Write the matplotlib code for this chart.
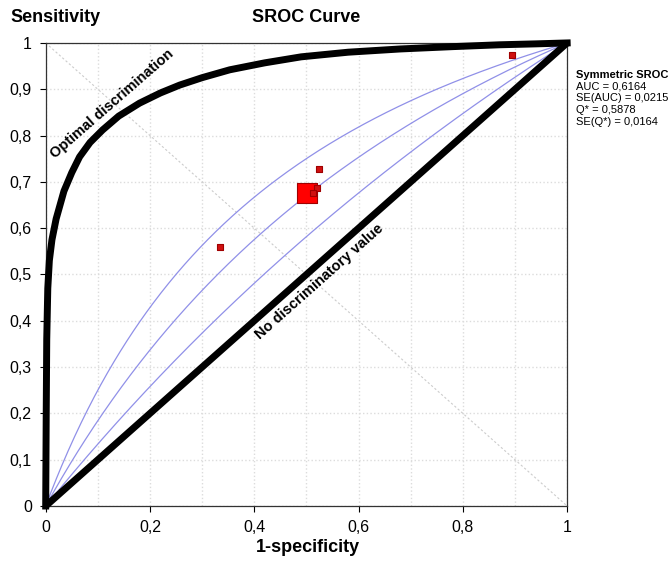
import numpy as np
import matplotlib
matplotlib.use("Agg")
import matplotlib.pyplot as plt

plt.rcParams['font.family'] = ['Liberation Sans', 'DejaVu Sans']

# study points (1-specificity, sensitivity) and marker side in px
fpr = [0.501, 0.335, 0.524, 0.520, 0.513, 0.894]
sens = [0.676, 0.560, 0.728, 0.687, 0.676, 0.974]
side = [20, 6, 6, 6, 6, 6]

# ln(DOR) of the symmetric SROC curve and its bounds
ln_dor = [1.10, 0.71, 0.33]

# "optimal discrimination" curve
opt_x = [0.0, 0.001, 0.002, 0.004, 0.007, 0.012, 0.02, 0.035, 0.05, 0.065, 0.085,
         0.109, 0.14, 0.18, 0.22, 0.257, 0.30, 0.353, 0.42, 0.49, 0.58, 0.68, 0.78, 0.87, 0.94, 1.0]
opt_y = [0.0, 0.20, 0.36, 0.47, 0.53, 0.575, 0.62, 0.68, 0.72, 0.754, 0.785,
         0.812, 0.842, 0.870, 0.892, 0.909, 0.925, 0.942, 0.957, 0.970, 0.980, 0.987, 0.992, 0.996, 0.998, 1.0]

grid_ticks = np.arange(0, 1.01, 0.1)
y_labels = ['0', '0,1', '0,2', '0,3', '0,4', '0,5', '0,6', '0,7', '0,8', '0,9', '1']
x_ticks = [0, 0.2, 0.4, 0.6, 0.8, 1.0]
x_labels = ['0', '0,2', '0,4', '0,6', '0,8', '1']

stats = ['AUC = 0,6164', 'SE(AUC) = 0,0215', 'Q* = 0,5878', 'SE(Q*) = 0,0164']

fig = plt.figure(figsize=(6.72, 5.62), dpi=100)
ax = fig.add_axes([0.068, 0.0996, 0.776, 0.824])

ax.set_xlim(0, 1)
ax.set_ylim(0, 1)
ax.set_xticks(x_ticks)
ax.set_xticks(grid_ticks, minor=True)
ax.set_yticks(grid_ticks)
ax.set_xticklabels(x_labels, fontsize=11.5)
ax.set_yticklabels(y_labels, fontsize=11.5)
ax.tick_params(direction='out', length=4, width=0.8, pad=6)
ax.tick_params(axis='x', which='minor', length=0)
ax.grid(True, which='both', color='#dcdcdc', linestyle=':', linewidth=1)
ax.set_axisbelow(True)
for s in ax.spines.values():
    s.set_linewidth(0.9)
    s.set_color('#333333')

# anti-diagonal
ax.plot([0, 1], [1, 0], color='#cccccc', linestyle=(0, (2, 2)), linewidth=0.8, zorder=1)

# SROC curves
f = np.linspace(0.0005, 0.9995, 400)
for d in ln_dor:
    lg = np.log(f / (1 - f)) + d
    ax.plot(np.r_[0, f, 1], np.r_[0, 1 / (1 + np.exp(-lg)), 1], color='#9090e8', linewidth=0.9, zorder=2)

ax.plot([0, 1], [0, 1], color='black', linewidth=5, solid_capstyle='butt', zorder=3, clip_on=False)
ax.plot(opt_x, opt_y, color='black', linewidth=5, solid_joinstyle='round', zorder=3, clip_on=False)

for x, y, s in zip(fpr, sens, side):
    face = '#ff0000' if s > 10 else '#d01010'
    ax.scatter(x, y, s=(s * 0.72) ** 2, marker='s', facecolor=face, edgecolor='#a00000',
               linewidth=0.8, zorder=4)

ax.text(0.128, 0.868, 'Optimal discrimination', rotation=41, fontsize=10.5, fontweight='bold',
        ha='center', va='center', rotation_mode='anchor')
ax.text(0.525, 0.485, 'No discriminatory value', rotation=41.6, fontsize=10.5, fontweight='bold',
        ha='center', va='center', rotation_mode='anchor')

fig.text(0.015, 0.968, 'Sensitivity', fontsize=13, fontweight='bold', ha='left', va='center')
fig.text(0.455, 0.968, 'SROC Curve', fontsize=13, fontweight='bold', ha='center', va='center')
fig.text(0.458, 0.025, '1-specificity', fontsize=13, fontweight='bold', ha='center', va='center')

fig.text(0.857, 0.866, 'Symmetric SROC', fontsize=8, fontweight='bold', ha='left', va='center')
for i, t in enumerate(stats):
    fig.text(0.857, 0.846 - i * 0.021, t, fontsize=8, ha='left', va='center')

fig.savefig('out.png', dpi=100)
